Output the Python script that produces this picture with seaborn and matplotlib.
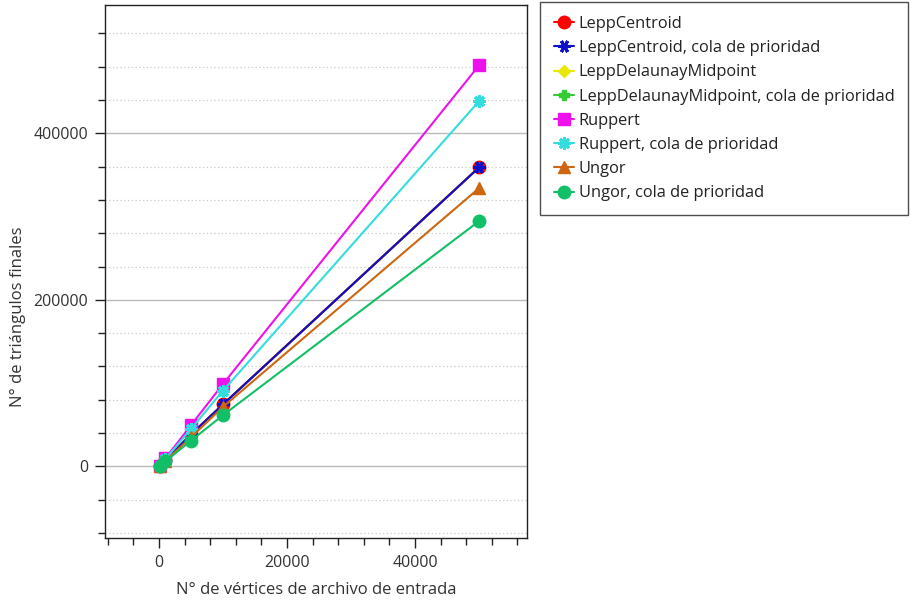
import matplotlib
matplotlib.use("Agg")
import matplotlib.pyplot as plt
from matplotlib.ticker import MultipleLocator
import seaborn as sns
import pandas as pd

sns.set_theme(style="white")
plt.rcParams["font.family"] = ["Open Sans", "DejaVu Sans"]

# Input vertex counts and resulting triangle counts per algorithm
vertices = [100, 1000, 5000, 10000, 50000]
lepp_centroid = [700, 7200, 38500, 74500, 359000]
lepp_centroid_pq = [700, 7200, 38500, 74500, 359000]
lepp_delaunay = [700, 7200, 38500, 74500, 359000]
lepp_delaunay_pq = [700, 7200, 38500, 74500, 359000]
ruppert = [950, 9700, 49500, 99000, 481500]
ruppert_pq = [880, 8900, 45000, 91000, 438500]
ungor = [680, 6800, 35000, 71500, 334000]
ungor_pq = [600, 6000, 31000, 61500, 294500]

# name, values, colour, marker, marker size, drawing order
series = [
    ("LeppCentroid", lepp_centroid, "#ff0000", "o", 9, 3),
    ("LeppCentroid, cola de prioridad", lepp_centroid_pq, "#1010c8", (6, 2, 90), 9, 4),
    ("LeppDelaunayMidpoint", lepp_delaunay, "#e8e800", "D", 6.5, 1),
    ("LeppDelaunayMidpoint, cola de prioridad", lepp_delaunay_pq, "#33cc33", "P", 6.5, 2),
    ("Ruppert", ruppert, "#ee11ee", "s", 9, 5),
    ("Ruppert, cola de prioridad", ruppert_pq, "#33dddd", (8, 2, 0), 9, 6),
    ("Ungor", ungor, "#cc6611", "^", 9, 7),
    ("Ungor, cola de prioridad", ungor_pq, "#11c066", "o", 9, 8),
]

fig = plt.figure(figsize=(9.15, 6.02), dpi=100)
ax = fig.add_axes([0.1148, 0.1063, 0.4612, 0.8854])

for name, vals, color, marker, ms, z in series:
    df = pd.DataFrame({"x": vertices, "y": vals})
    mew = 2.2 if isinstance(marker, tuple) else 1.0
    sns.lineplot(data=df, x="x", y="y", ax=ax, color=color, marker=marker,
                 markersize=ms, markeredgecolor=color, markeredgewidth=mew,
                 linewidth=1.5, label=name, zorder=z)

ax.set_xlim(-8440, 57500)
ax.set_ylim(-86000, 554000)

ax.xaxis.set_major_locator(MultipleLocator(20000))
ax.xaxis.set_minor_locator(MultipleLocator(4000))
ax.yaxis.set_major_locator(MultipleLocator(200000))
ax.yaxis.set_minor_locator(MultipleLocator(40000))

ax.tick_params(axis="both", which="major", direction="out", length=7, width=1,
               color="#222222", labelsize=11.5, labelcolor="#333333",
               bottom=True, left=True, pad=5)
ax.tick_params(axis="both", which="minor", direction="out", length=5, width=1,
               color="#222222", bottom=True, left=True)

ax.grid(False)
ax.yaxis.grid(True, which="major", color="#bbbbbb", linestyle="-", linewidth=1)
ax.yaxis.grid(True, which="minor", color="#cccccc", linestyle=(0, (1, 2)), linewidth=0.9)
ax.set_axisbelow(True)

for sp in ax.spines.values():
    sp.set_color("#222222")
    sp.set_linewidth(1)

ax.set_xlabel("N° de vértices de archivo de entrada", fontsize=12, color="#333333",
              labelpad=8)
ax.set_ylabel("N° de triángulos finales", fontsize=12, color="#333333")
ax.yaxis.set_label_coords(-0.187, 0.415)

ax.legend_.remove()
handles, labels = ax.get_legend_handles_labels()
leg = fig.legend(handles, labels, loc="upper left",
                 bbox_to_anchor=(540 / 915, 1 - 2 / 602), borderaxespad=0,
                 frameon=True, fancybox=False, fontsize=11.8,
                 handlelength=1.2, handletextpad=0.3, labelspacing=0.5,
                 borderpad=0.85, labelcolor="#222222")
leg.get_frame().set_edgecolor("#222222")
leg.get_frame().set_linewidth(1)

fig.savefig("out.png", dpi=100)
